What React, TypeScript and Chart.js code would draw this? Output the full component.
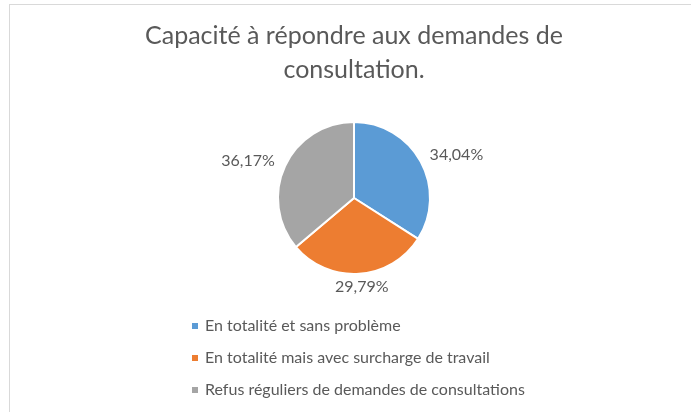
import React, { useEffect, useRef } from 'react';
import { Chart, registerables } from 'chart.js';

Chart.register(...registerables);

const titleLines = ['Capacité à répondre aux demandes de', 'consultation.'];
const categories = [
  'En totalité et sans problème',
  'En totalité mais avec surcharge de travail',
  'Refus réguliers de demandes de consultations',
];
const values = [34.04, 29.79, 36.17];
const colors = ['#5B9BD5', '#ED7D31', '#A5A5A5'];

const TEXT = '#595959';
const FONT = 'Lato';

const fmt = (v: number) => v.toFixed(2).replace('.', ',') + '%';

const framePlugin = {
  id: 'frame',
  beforeDraw(chart: any) {
    const ctx = chart.ctx;
    ctx.save();
    ctx.fillStyle = '#ffffff';
    ctx.fillRect(0, 0, chart.width, chart.height);
    ctx.strokeStyle = '#d9d9d9';
    ctx.lineWidth = 1;
    ctx.strokeRect(9.5, 4.5, chart.width + 10, chart.height + 10);
    ctx.restore();
  },
};

const labelPlugin = {
  id: 'sliceLabels',
  afterDatasetsDraw(chart: any) {
    const ctx = chart.ctx;
    const meta = chart.getDatasetMeta(0);
    const ds = chart.data.datasets[0];
    ctx.save();
    ctx.font = `16px ${FONT}`;
    ctx.fillStyle = TEXT;
    ctx.textAlign = 'center';
    ctx.textBaseline = 'middle';
    meta.data.forEach((arc: any, i: number) => {
      const { startAngle, endAngle, outerRadius, x, y } = arc.getProps(
        ['startAngle', 'endAngle', 'outerRadius', 'x', 'y'],
        true
      );
      const mid = (startAngle + endAngle) / 2;
      const dx = Math.cos(mid);
      const dy = Math.sin(mid);
      const text = fmt(ds.data[i]);
      const w = ctx.measureText(text).width;
      const h = 16;
      const ax = x + (outerRadius + 14) * dx;
      const ay = y + (outerRadius + 5) * dy;
      ctx.fillText(text, ax + (dx * w) / 2, ay + (dy * h) / 2);
    });
    ctx.restore();
  },
};

const legendPlugin = {
  id: 'listLegend',
  afterDraw(chart: any) {
    const ctx = chart.ctx;
    const ds = chart.data.datasets[0];
    ctx.save();
    ctx.font = `16px ${FONT}`;
    ctx.textBaseline = 'middle';
    ctx.textAlign = 'left';
    chart.data.labels.forEach((lab: string, i: number) => {
      const yy = 326 + i * 32;
      ctx.fillStyle = ds.backgroundColor[i];
      ctx.fillRect(192, yy - 3, 6, 6);
      ctx.fillStyle = TEXT;
      ctx.fillText(lab, 205, yy);
    });
    ctx.restore();
  },
};

export default function App() {
  const ref = useRef<HTMLCanvasElement | null>(null);

  useEffect(() => {
    document.body.style.margin = '0';
    document.body.style.overflow = 'hidden';
    const canvas = ref.current;
    if (!canvas) return;
    const chart = new Chart(canvas, {
      type: 'pie',
      data: {
        labels: categories,
        datasets: [
          {
            data: values,
            backgroundColor: colors,
            borderColor: '#ffffff',
            borderWidth: 2,
            hoverOffset: 0,
          },
        ],
      },
      options: {
        animation: false,
        responsive: false,
        maintainAspectRatio: false,
        events: [],
        layout: { padding: { left: 17, right: 0, top: 0, bottom: 137 } },
        plugins: {
          legend: { display: false },
          tooltip: { enabled: false },
          title: {
            display: true,
            text: titleLines,
            color: TEXT,
            font: { family: FONT, size: 25, weight: 'normal', lineHeight: 1.36 },
            padding: { top: 19, bottom: 34 },
          },
        },
      },
      plugins: [framePlugin, labelPlugin, legendPlugin],
    });
    return () => chart.destroy();
  }, []);

  return (
    <div style={{ width: 691, height: 412 }}>
      <canvas ref={ref} width={691} height={412} style={{ display: 'block' }} />
    </div>
  );
}
